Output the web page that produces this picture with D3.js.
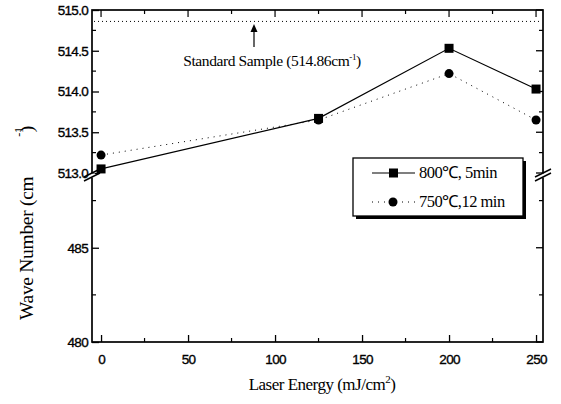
<!DOCTYPE html>
<html>
<head>
<meta charset="utf-8">
<script src="https://cdn.jsdelivr.net/npm/d3@7"></script>
<style>
body{margin:0;background:#fff;}
svg{display:block;}
.tick text{font-family:"Liberation Sans Narrow","Liberation Sans",Arial,sans-serif;}
</style>
</head>
<body>
<div id="chart"></div>
<script>
// data
var energy=[0,125,200,250];
var wave800=[513.05,513.67,514.53,514.03];
var wave750=[513.22,513.65,514.22,513.65];
var standard=514.86;
var xTicks=[0,50,100,150,200,250];
var yTicksUpper=["513.0","513.5","514.0","514.5","515.0"];
var yTicksLower=["480","485"];
var legendNames=["800\u2103, 5min","750\u2103,12 min"];

var width=561,height=404;
var pL=92,pR=543,pT=10,pB=342;
var serif="Liberation Serif, Times New Roman, serif";

var svg=d3.select("#chart").append("svg")
  .attr("width",width).attr("height",height);

var x=d3.scaleLinear().domain([-5.2,254]).range([pL,pR]);
// broken y axis: upper and lower segments
var yUp=d3.scaleLinear().domain([513,515]).range([173,pT]);
var yLow=d3.scaleLinear().domain([480,488.7]).range([pB,178]);

// frame
svg.append("rect").attr("x",pL).attr("y",pT)
  .attr("width",pR-pL).attr("height",pB-pT)
  .attr("fill","none").attr("stroke","#000").attr("stroke-width",1.7);

// bottom axis (inward ticks)
var xAxis=svg.append("g").attr("transform","translate(0,"+pB+")")
  .call(d3.axisBottom(x).tickValues(xTicks).tickSize(-7).tickPadding(12).tickFormat(d3.format("d")));
xAxis.select(".domain").remove();

var minorX=[25,75,125,175,225];
svg.selectAll(".mxb").data(minorX).enter().append("line")
  .attr("x1",d=>x(d)).attr("x2",d=>x(d)).attr("y1",pB).attr("y2",pB-4)
  .attr("stroke","#000").attr("stroke-width",1.2);
// top axis ticks
svg.selectAll(".mxt").data(xTicks.concat(minorX)).enter().append("line")
  .attr("x1",d=>x(d)).attr("x2",d=>x(d)).attr("y1",pT)
  .attr("y2",d=>pT+(d%50==0?7:4))
  .attr("stroke","#000").attr("stroke-width",1.2);

// left axis, two segments
var yAxisUp=svg.append("g").attr("transform","translate("+pL+",0)")
  .call(d3.axisLeft(yUp).tickValues(yTicksUpper.map(Number)).tickSize(-7).tickPadding(4).tickFormat(d3.format(".1f")));
yAxisUp.select(".domain").remove();
var yAxisLow=svg.append("g").attr("transform","translate("+pL+",0)")
  .call(d3.axisLeft(yLow).tickValues(yTicksLower.map(Number)).tickSize(-7).tickPadding(4).tickFormat(d3.format("d")));
yAxisLow.select(".domain").remove();
svg.selectAll(".tick text").attr("font-size",13.5).attr("fill","#000")
  .attr("stroke","#000").attr("stroke-width",0.35).style("letter-spacing","-0.7px");
svg.selectAll(".tick line").attr("stroke-width",1.3);

// minor y ticks left and right, major ticks on right
var minorUp=[513.25,513.75,514.25,514.75];
var minorLow=[482.5,487.5];
function yTickLines(cls,vals,scale,len){
  [pL,pR].forEach(function(ax){
    var dir=ax==pL?1:-1;
    svg.selectAll("."+cls+ax).data(vals).enter().append("line")
      .attr("x1",ax).attr("x2",ax+dir*len)
      .attr("y1",d=>scale(d)).attr("y2",d=>scale(d))
      .attr("stroke","#000").attr("stroke-width",1.2);
  });
}
yTickLines("mu",minorUp,yUp,4);
yTickLines("ml",minorLow,yLow,4);
svg.selectAll(".ru").data(yTicksUpper.map(Number)).enter().append("line")
  .attr("x1",pR).attr("x2",pR-7).attr("y1",d=>yUp(d)).attr("y2",d=>yUp(d))
  .attr("stroke","#000").attr("stroke-width",1.3);
svg.selectAll(".rl").data(yTicksLower.map(Number)).enter().append("line")
  .attr("x1",pR).attr("x2",pR-7).attr("y1",d=>yLow(d)).attr("y2",d=>yLow(d))
  .attr("stroke","#000").attr("stroke-width",1.3);

// axis break marks
[pL,pR].forEach(function(ax){
  svg.append("rect").attr("x",ax-3).attr("y",173.5).attr("width",6).attr("height",4).attr("fill","#fff");
  [0,4].forEach(function(o){
    svg.append("line").attr("x1",ax-8).attr("y1",179+o-2).attr("x2",ax+8).attr("y2",171+o-2)
      .attr("stroke","#000").attr("stroke-width",1.5);
  });
});

// standard sample line
svg.append("line").attr("x1",pL+2).attr("x2",pR-2)
  .attr("y1",yUp(standard)).attr("y2",yUp(standard))
  .attr("stroke","#000").attr("stroke-width",1).attr("stroke-dasharray","1,3");

// annotation
svg.append("line").attr("x1",254).attr("x2",254).attr("y1",47).attr("y2",28)
  .attr("stroke","#000").attr("stroke-width",1.2);
svg.append("path").attr("d","M250.5,32 L254,24 L257.5,32 Z").attr("fill","#000");
var ann=svg.append("text").attr("x",272).attr("y",66).attr("text-anchor","middle")
  .attr("font-family",serif).attr("font-size",15.5)
  .style("letter-spacing","-0.4px");
ann.append("tspan").text("Standard Sample (514.86cm");
ann.append("tspan").attr("dy",-6).attr("font-size",9).text("-1");
ann.append("tspan").attr("dy",6).text(")");

// series
var line=d3.line().x(d=>x(d[0])).y(d=>yUp(d[1]));
var s800=energy.map((e,i)=>[e,wave800[i]]);
var s750=energy.map((e,i)=>[e,wave750[i]]);

svg.append("path").datum(s750).attr("d",line).attr("fill","none")
  .attr("stroke","#000").attr("stroke-width",1).attr("stroke-dasharray","1,5");
svg.append("path").datum(s800).attr("d",line).attr("fill","none")
  .attr("stroke","#000").attr("stroke-width",1.2);

svg.selectAll(".sq").data(s800).enter().append("rect")
  .attr("x",d=>x(d[0])-4.5).attr("y",d=>yUp(d[1])-4.5)
  .attr("width",9).attr("height",9).attr("fill","#000");
svg.selectAll(".ci").data(s750).enter().append("circle")
  .attr("cx",d=>x(d[0])).attr("cy",d=>yUp(d[1])).attr("r",4.5).attr("fill","#000");

// legend
var lg=svg.append("g");
lg.append("rect").attr("x",356).attr("y",161).attr("width",170).attr("height",58).attr("fill","#000");
lg.append("rect").attr("x",353).attr("y",158).attr("width",170).attr("height",58)
  .attr("fill","#fff").attr("stroke","#000").attr("stroke-width",1.3);
legendNames.forEach(function(name,i){
  var ly=173+i*29;
  lg.append("line").attr("x1",372).attr("x2",415).attr("y1",ly).attr("y2",ly)
    .attr("stroke","#000").attr("stroke-width",i==0?1.2:1)
    .attr("stroke-dasharray",i==0?null:"1,5");
  if(i==0) lg.append("rect").attr("x",389).attr("y",ly-4.5).attr("width",9).attr("height",9).attr("fill","#000");
  else lg.append("circle").attr("cx",393).attr("cy",ly).attr("r",4.5).attr("fill","#000");
  lg.append("text").attr("x",419).attr("y",ly+5)
    .attr("font-family",serif).attr("font-size",16.5)
    .style("letter-spacing","-0.5px").text(name);
});

// axis titles
var xt=svg.append("text").attr("x",322).attr("y",390).attr("text-anchor","middle")
  .attr("font-family",serif).attr("font-size",17)
  .style("letter-spacing","-0.5px");
xt.append("tspan").text("Laser Energy (mJ/cm");
xt.append("tspan").attr("dy",-7).attr("font-size",11).text("2");
xt.append("tspan").attr("dy",7).text(")");

var yt=svg.append("text").attr("transform","translate(33,320) rotate(-90)").attr("text-anchor","start")
  .attr("font-family",serif).attr("font-size",19.5)
  .style("letter-spacing","-0.3px");
yt.append("tspan").text("Wave Number (cm");
yt.append("tspan").attr("dx",40).attr("dy",-10).attr("font-size",12).text("-1");
yt.append("tspan").attr("dx",-5).attr("dy",10).text(")");
</script>
</body>
</html>
